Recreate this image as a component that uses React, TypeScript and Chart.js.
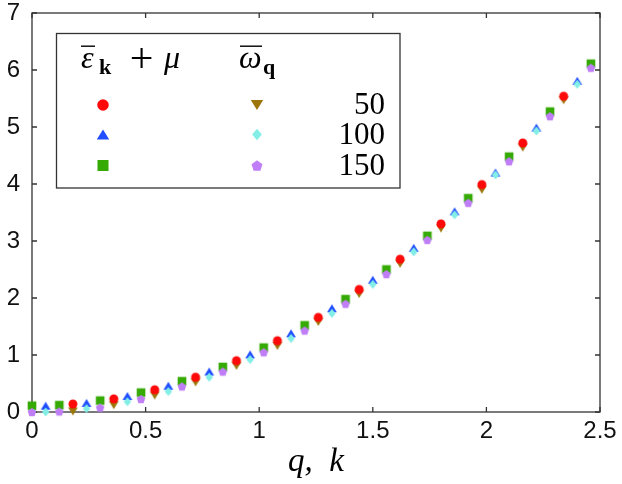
import React, { useEffect, useRef } from "react";
import { Chart, registerables } from "chart.js";

Chart.register(...registerables);

// momentum grids (three interleaved grids)
const kA = [0.18, 0.36, 0.54, 0.72, 0.9, 1.08, 1.26, 1.44, 1.62, 1.8, 1.98, 2.16, 2.34];
const kB = [0.06, 0.24, 0.42, 0.6, 0.78, 0.96, 1.14, 1.32, 1.5, 1.68, 1.86, 2.04, 2.22, 2.4];
const kC = [0, 0.12, 0.3, 0.48, 0.66, 0.84, 1.02, 1.2, 1.38, 1.56, 1.74, 1.92, 2.1, 2.28, 2.46];

// eps_k + mu
const eps50 = [0.14, 0.23, 0.39, 0.61, 0.9, 1.25, 1.66, 2.15, 2.68, 3.3, 3.99, 4.72, 5.54];
const eps100 = [0.11, 0.16, 0.28, 0.46, 0.71, 1.01, 1.38, 1.82, 2.32, 2.88, 3.52, 4.2, 4.99, 5.81];
const eps150 = [0.11, 0.12, 0.2, 0.34, 0.54, 0.79, 1.13, 1.52, 1.98, 2.5, 3.09, 3.75, 4.48, 5.27, 6.11];

// omega_q
const om50 = [0.01, 0.12, 0.29, 0.52, 0.81, 1.16, 1.58, 2.07, 2.6, 3.22, 3.9, 4.64, 5.47];
const om100 = [0.0, 0.06, 0.18, 0.36, 0.61, 0.92, 1.29, 1.73, 2.24, 2.81, 3.46, 4.16, 4.93, 5.75];
const om150 = [0.0, 0.01, 0.08, 0.23, 0.45, 0.71, 1.05, 1.43, 1.9, 2.42, 3.02, 3.67, 4.4, 5.19, 6.04];

const labels = ["50", "100", "150"];
const xTickLabels = ["0", "0.5", "1", "1.5", "2", "2.5"];
const yTickLabels = ["0", "1", "2", "3", "4", "5", "6", "7"];

type Shape = "circle" | "triUp" | "square" | "triDown" | "diamond" | "pentagon";

const series: { k: number[]; v: number[]; shape: Shape; color: string; name: string }[] = [
  { k: kA, v: eps50, shape: "circle", color: "#ff0a0a", name: "eps 50" },
  { k: kB, v: eps100, shape: "triUp", color: "#1f4dff", name: "eps 100" },
  { k: kC, v: eps150, shape: "square", color: "#35aa05", name: "eps 150" },
  { k: kA, v: om50, shape: "triDown", color: "#9c7608", name: "omega 50" },
  { k: kB, v: om100, shape: "diamond", color: "#82eee6", name: "omega 100" },
  { k: kC, v: om150, shape: "pentagon", color: "#c07ef6", name: "omega 150" },
];

function traceMarker(ctx: CanvasRenderingContext2D, shape: Shape, x: number, y: number, s: number) {
  ctx.beginPath();
  if (shape === "circle") {
    ctx.arc(x, y, s / 2, 0, Math.PI * 2);
  } else if (shape === "square") {
    ctx.rect(x - s * 0.48, y - s * 0.48, s * 0.96, s * 0.96);
  } else if (shape === "triUp" || shape === "triDown") {
    const w = s * 0.54;
    const h = s * 0.44;
    const d = shape === "triUp" ? 1 : -1;
    ctx.moveTo(x, y - d * h);
    ctx.lineTo(x + w, y + d * h);
    ctx.lineTo(x - w, y + d * h);
  } else if (shape === "diamond") {
    const w = s * 0.42;
    const h = s * 0.5;
    ctx.moveTo(x, y - h);
    ctx.lineTo(x + w, y);
    ctx.lineTo(x, y + h);
    ctx.lineTo(x - w, y);
  } else {
    const r = s * 0.5;
    for (let i = 0; i < 5; i++) {
      const a = -Math.PI / 2 + (i * 2 * Math.PI) / 5;
      const px = x + r * Math.cos(a);
      const py = y + 0.5 + r * Math.sin(a);
      if (i === 0) ctx.moveTo(px, py);
      else ctx.lineTo(px, py);
    }
  }
  ctx.closePath();
  ctx.fill();
}

function markerImage(shape: Shape, color: string, s: number) {
  const c = document.createElement("canvas");
  c.width = 16;
  c.height = 16;
  const ctx = c.getContext("2d")!;
  ctx.fillStyle = color;
  traceMarker(ctx, shape, 8, 8, s);
  return c;
}

const frameTicks = {
  id: "frameTicks",
  beforeDatasetsDraw(chart: any) {
    const { ctx, chartArea: a, scales } = chart;
    ctx.save();
    ctx.strokeStyle = "#333";
    ctx.lineWidth = 1.3;
    ctx.strokeRect(a.left, a.top, a.right - a.left, a.bottom - a.top);
    ctx.beginPath();
    for (const t of scales.x.ticks) {
      const px = scales.x.getPixelForValue(t.value);
      ctx.moveTo(px, a.bottom);
      ctx.lineTo(px, a.bottom - 5);
      ctx.moveTo(px, a.top);
      ctx.lineTo(px, a.top + 5);
    }
    for (const t of scales.y.ticks) {
      const py = scales.y.getPixelForValue(t.value);
      ctx.moveTo(a.left, py);
      ctx.lineTo(a.left + 5, py);
      ctx.moveTo(a.right, py);
      ctx.lineTo(a.right - 5, py);
    }
    ctx.stroke();
    ctx.restore();
  },
};

const legendBox = {
  id: "legendBox",
  afterDatasetsDraw(chart: any) {
    const { ctx } = chart;
    const L = 56.5, T = 33.5, R = 400, B = 188;
    ctx.save();
    ctx.fillStyle = "#fff";
    ctx.fillRect(L, T, R - L, B - T);
    ctx.strokeStyle = "#333";
    ctx.lineWidth = 1.3;
    ctx.strokeRect(L, T, R - L, B - T);

    ctx.fillStyle = "#000";
    ctx.textBaseline = "alphabetic";
    ctx.textAlign = "left";
    // header 1: eps_k + mu
    ctx.font = "italic 32px 'Liberation Serif'";
    ctx.fillText("\u03b5", 81, 68);
    ctx.font = "bold 22px 'Liberation Serif'";
    ctx.fillText("k", 99, 74);
    ctx.font = "42px 'Liberation Serif'";
    ctx.textAlign = "center";
    ctx.fillText("+", 141.5, 72);
    ctx.textAlign = "left";
    ctx.font = "italic 32px 'Liberation Serif'";
    ctx.fillText("\u03bc", 164, 68);
    // header 2: omega_q
    ctx.fillText("\u03c9", 239, 68);
    ctx.font = "bold 22px 'Liberation Serif'";
    ctx.fillText("q", 263, 74);
    // overbars
    ctx.fillRect(81, 45.5, 14, 1.4);
    ctx.fillRect(240, 45.5, 22, 1.4);

    const rows = [105, 134.5, 165.5];
    ctx.font = "31px 'Liberation Serif'";
    ctx.textAlign = "right";
    ctx.textBaseline = "middle";
    labels.forEach((lab, i) => {
      ctx.fillStyle = series[i].color;
      traceMarker(ctx, series[i].shape, 103, rows[i], 11.5);
      ctx.fillStyle = series[i + 3].color;
      traceMarker(ctx, series[i + 3].shape, 257, rows[i], 11.5);
      ctx.fillStyle = "#000";
      ctx.fillText(lab, 385, rows[i] + 1);
    });
    ctx.restore();
  },
};

export default function App() {
  const canvasRef = useRef<HTMLCanvasElement | null>(null);
  const chartRef = useRef<Chart | null>(null);

  useEffect(() => {
    document.body.style.margin = "0";
    document.body.style.overflow = "hidden";
    if (!canvasRef.current) return;
    const ctx = canvasRef.current.getContext("2d");
    if (!ctx) return;
    if (chartRef.current) chartRef.current.destroy();

    const tickFont = { family: "'Liberation Sans', Arial, sans-serif", size: 24 };

    chartRef.current = new Chart(ctx, {
      type: "scatter",
      data: {
        datasets: series.map((s, i) => ({
          label: s.name,
          data: s.k.map((k, j) => ({ x: k, y: s.v[j] })),
          pointStyle: markerImage(s.shape, s.color, 9),
          pointRadius: 5,
          backgroundColor: s.color,
          borderColor: s.color,
          clip: false as any,
          order: i < 3 ? (i === 0 ? 0 : 2) : i === 3 ? 1 : 0,
        })),
      },
      options: {
        animation: false,
        responsive: true,
        maintainAspectRatio: false,
        layout: { padding: { left: 0, right: 22, top: 13, bottom: 0 } },
        plugins: {
          legend: { display: false },
          tooltip: { enabled: false },
        },
        scales: {
          x: {
            type: "linear",
            min: 0,
            max: 2.5,
            ticks: {
              stepSize: 0.5,
              font: tickFont,
              color: "#111",
              padding: 5,
              maxRotation: 0,
              callback: (_v: any, i: number) => xTickLabels[i],
            },
            grid: { display: false, drawTicks: false },
            border: { display: false },
            title: {
              display: true,
              text: "q,  k",
              color: "#000",
              font: { family: "'Liberation Serif', serif", size: 33, style: "italic", lineHeight: 1.2 },
              padding: { top: 0, bottom: 2 },
            },
            afterFit: (s: any) => {
              s.height = 72;
              s.paddingLeft = 0;
              s.paddingRight = 0;
            },
          },
          y: {
            type: "linear",
            min: 0,
            max: 7,
            ticks: {
              stepSize: 1,
              font: tickFont,
              color: "#111",
              padding: 12,
              callback: (_v: any, i: number) => yTickLabels[i],
            },
            grid: { display: false, drawTicks: false },
            border: { display: false },
            afterFit: (s: any) => {
              s.width = 32;
              s.paddingTop = 0;
              s.paddingBottom = 0;
            },
          },
        },
      },
      plugins: [frameTicks, legendBox],
    });

    return () => {
      if (chartRef.current) {
        chartRef.current.destroy();
        chartRef.current = null;
      }
    };
  }, []);

  return (
    <div style={{ width: 622, height: 484, position: "relative" }}>
      <canvas ref={canvasRef} />
    </div>
  );
}
